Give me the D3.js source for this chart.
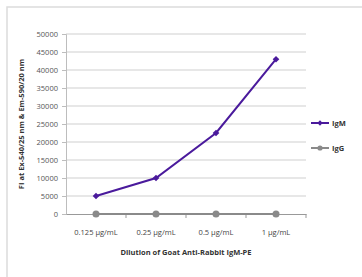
<!DOCTYPE html>
<html>
<head>
<meta charset="UTF-8" />
<script src="https://d3js.org/d3.v7.min.js"></script>
<style>
body { margin: 0; background: #fff; }
text { font-family: "Open Sans", sans-serif; }
</style>
</head>
<body>
<svg id="chart" width="362" height="277"></svg>
<script>
// data
const dilutions = ["0.125 µg/mL", "0.25 µg/mL", "0.5 µg/mL", "1 µg/mL"]
const igm = [5000, 10000, 22500, 43000]
const igg = [0, 0, 0, 0]
const yTicks = [0, 5000, 10000, 15000, 20000, 25000, 30000, 35000, 40000, 45000, 50000]
const seriesNames = ["IgM", "IgG"]

const purple = "#4a1a9c"
const gray = "#8a8a8a"

const svg = d3.select("#chart")

// outer frame (top + left only visible)
svg.append("path").attr("d", "M7,277V7H362").attr("fill", "none")
  .attr("stroke", "#dcdcdc").attr("stroke-width", 1.5)

const x = d3.scaleBand().domain(dilutions).range([66, 306])
const y = d3.scaleLinear().domain([0, 50000]).range([214, 34])

// gridlines
svg.append("g").selectAll("line").data(yTicks.slice(1)).enter().append("line")
  .attr("x1", 66).attr("x2", 306)
  .attr("y1", d => y(d)).attr("y2", d => y(d))
  .attr("stroke", "#cfcfcf").attr("stroke-width", 1)

// y axis
const yAxis = svg.append("g").attr("transform", "translate(66,0)")
  .call(d3.axisLeft(y).tickValues(yTicks).tickFormat(d3.format("d")).tickSize(4).tickPadding(4))
yAxis.select(".domain").attr("stroke", "#bdbdbd")
yAxis.selectAll(".tick line").attr("stroke", "#bdbdbd")
yAxis.selectAll("text").attr("font-size", 7.5).attr("fill", "#555")
  .style("font-family", "Open Sans")

// x axis
const xAxis = svg.append("g").attr("transform", "translate(0,214)")
  .call(d3.axisBottom(x).tickSize(0).tickPadding(16))
xAxis.select(".domain").attr("stroke", "#999").attr("stroke-width", 1.2)
xAxis.selectAll("text").attr("font-size", 7.5).attr("fill", "#444")
  .style("font-family", "Open Sans")
// boundary ticks
svg.append("g").selectAll("line").data(dilutions).enter().append("line")
  .attr("x1", d => x(d) + x.bandwidth()).attr("x2", d => x(d) + x.bandwidth())
  .attr("y1", 214).attr("y2", 218).attr("stroke", "#999")

// axis titles
svg.append("text").attr("x", 186).attr("y", 255).attr("text-anchor", "middle")
  .attr("font-size", 7.5).attr("font-weight", "bold").attr("fill", "#333")
  .text("Dilution of Goat Anti-Rabbit IgM-PE")
svg.append("text").attr("transform", "translate(24,124) rotate(-90)")
  .attr("text-anchor", "middle").attr("font-size", 7.5).attr("font-weight", "bold")
  .attr("fill", "#333").text("FI at Ex-540/25 nm & Em-590/20 nm")

const cx = d => x(d) + x.bandwidth() / 2
const line = d3.line().x(d => cx(d[0])).y(d => y(d[1]))

// IgG
svg.append("path").datum(d3.zip(dilutions, igg)).attr("d", line)
  .attr("fill", "none").attr("stroke", gray).attr("stroke-width", 2)
svg.append("g").selectAll("circle").data(d3.zip(dilutions, igg)).enter().append("circle")
  .attr("cx", d => cx(d[0])).attr("cy", d => y(d[1])).attr("r", 3.5).attr("fill", gray)

// IgM
svg.append("path").datum(d3.zip(dilutions, igm)).attr("d", line)
  .attr("fill", "none").attr("stroke", purple).attr("stroke-width", 2)
const diamond = d3.symbol().type(d3.symbolSquare).size(22)
svg.append("g").selectAll("path").data(d3.zip(dilutions, igm)).enter().append("path")
  .attr("d", diamond).attr("transform", d => `translate(${cx(d[0])},${y(d[1])}) rotate(45)`)
  .attr("fill", purple)

// legend
const legY = [123, 148]
const legColors = [purple, gray]
seriesNames.forEach((name, i) => {
  const g = svg.append("g").attr("transform", `translate(311,${legY[i]})`)
  g.append("line").attr("x1", 0).attr("x2", 18).attr("stroke", legColors[i]).attr("stroke-width", 2)
  if (i == 0) g.append("path").attr("d", d3.symbol().type(d3.symbolSquare).size(14)).attr("transform", "translate(9,0) rotate(45)").attr("fill", purple)
  else g.append("circle").attr("cx", 9).attr("r", 2.6).attr("fill", gray)
  g.append("text").attr("x", 21).attr("y", 2.6).attr("font-size", 7.5)
    .attr("font-weight", "bold").attr("fill", "#333").text(name)
})
</script>
</body>
</html>
